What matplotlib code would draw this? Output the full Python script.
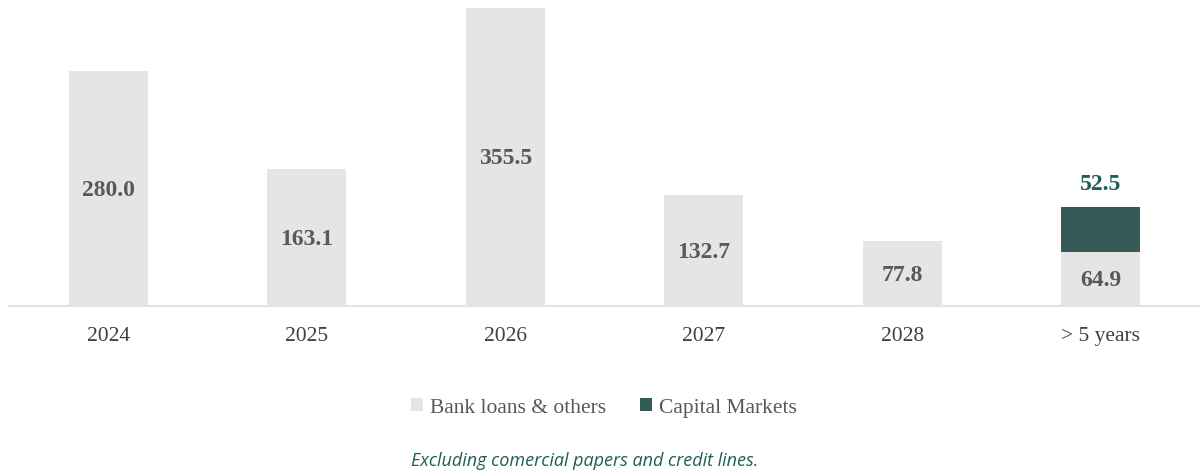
import numpy as np
import matplotlib.pyplot as plt

categories = ["2024", "2025", "2026", "2027", "2028", "> 5 years"]
bank_loans = [280.0, 163.1, 355.5, 132.7, 77.8, 64.9]
capital_markets = [0, 0, 0, 0, 0, 52.5]

light = "#e6e5e3"
dark = "#365a57"
serif = ["Liberation Serif", "DejaVu Serif"]

fig = plt.figure(figsize=(12, 4.74), dpi=100)
ax = fig.add_axes([9 / 1200, 168 / 474, 1191 / 1200, 306 / 474])

x = np.arange(len(categories))
ax.bar(x, bank_loans, width=0.4, color=light, label="Bank loans & others")
ax.bar(x, capital_markets, width=0.4, bottom=bank_loans, color=dark, label="Capital Markets")

# value labels inside the grey bars
for xi, v in zip(x, bank_loans):
    ax.text(xi, v / 2 - 2, f"{v:.1f}", ha="center", va="center", fontsize=17,
            fontweight="bold", color="#595959", family=serif)
for xi, b, v in zip(x, bank_loans, capital_markets):
    if v > 0:
        ax.text(xi, b + v + 15, f"{v:.1f}", ha="center", va="bottom", fontsize=17,
                fontweight="bold", color="#1d5e57", family=serif)

ax.set_xlim(-0.5, 5.5)
ax.set_ylim(0, 364.7)
ax.set_xticks(x)
ax.set_xticklabels(categories, fontsize=15.5, color="#404040", family=serif)
ax.tick_params(axis="x", length=0, pad=15)
ax.set_yticks([])
for s in ["top", "right", "left"]:
    ax.spines[s].set_visible(False)
ax.spines["bottom"].set_color("#e3e3e3")
ax.spines["bottom"].set_linewidth(1.5)

leg = fig.legend(loc="center", bbox_to_anchor=(604 / 1200, 1 - 408 / 474), ncol=2,
                 frameon=False, handlelength=0.55, handleheight=0.55, handletextpad=0.3,
                 columnspacing=1.6, prop={"family": serif, "size": 15.5})
for t in leg.get_texts():
    t.set_color("#595959")

fig.text(585 / 1200, 1 - 461 / 474, "Excluding comercial papers and credit lines.",
         ha="center", va="center", fontsize=13, style="italic", color="#1d5e57",
         family=["Open Sans", "DejaVu Sans"])

fig.savefig("out.png", dpi=100)
